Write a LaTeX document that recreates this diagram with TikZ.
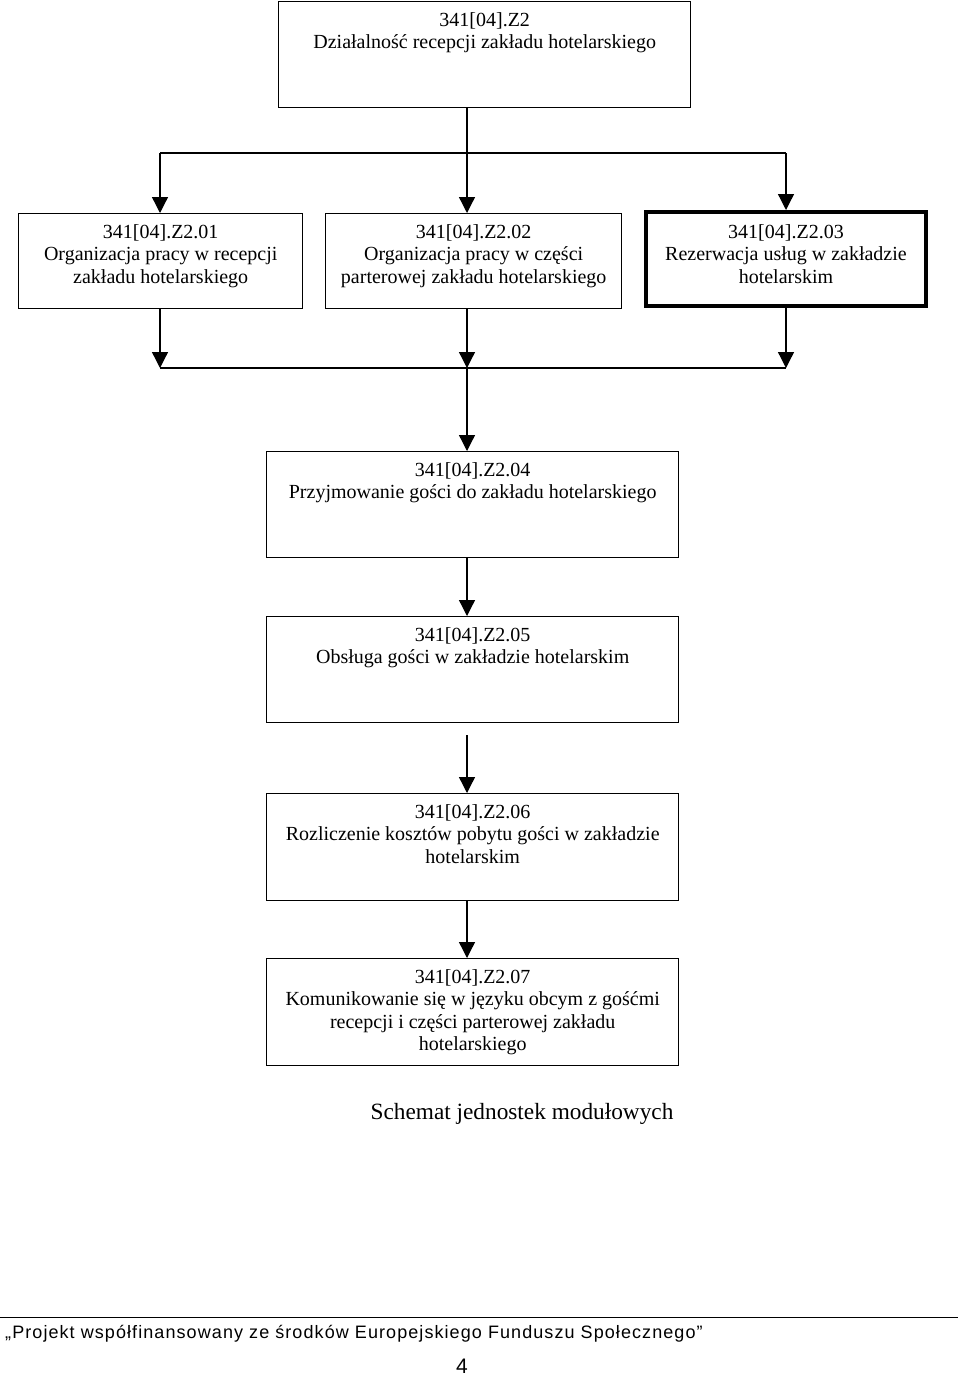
\documentclass[tikz,border=0pt]{standalone}
\usepackage{fontspec}
\setmainfont{Liberation Serif}
\setsansfont{Liberation Sans}
\newfontfamily\footfont[LetterSpace=6]{Liberation Sans}
\usetikzlibrary{positioning}
\usetikzlibrary{arrows.meta}

\tikzset{
	modbox/.style={draw,line width=1.4pt,anchor=north west,inner sep=0pt},
	modtxt/.style={anchor=north,align=center,inner sep=0pt,yshift=-11pt,font=\fontsize{20}{22.5}\selectfont},
	arr/.style={line width=1.3pt,-{Triangle[width=16pt,length=16pt]}},
	bus/.style={line width=1.3pt}
}

\begin{document}
\begin{tikzpicture}[x=1pt,y=-1pt]
		\useasboundingbox (0,0) rectangle (960,1376);
		\node[modbox,minimum width=412pt,minimum height=106pt,label={[modtxt]north:{341[04].Z2\\Działalność recepcji zakładu hotelarskiego}}](z2) at (278,1){};
		\node[modbox,minimum width=284pt,minimum height=95pt,label={[modtxt]north:{341[04].Z2.01\\Organizacja pracy w recepcji\\zakładu hotelarskiego}}](z201) at (18,213){};
		\node[modbox,minimum width=296pt,minimum height=95pt,label={[modtxt]north:{341[04].Z2.02\\Organizacja pracy w części\\parterowej zakładu hotelarskiego}}](z202) at (325,213){};
		\node[modbox,line width=4pt,minimum width=280pt,minimum height=94pt,label={[modtxt,yshift=-3pt]north:{341[04].Z2.03\\Rezerwacja usług w zakładzie\\hotelarskim}}](z203) at (644,210){};
		\node[modbox,minimum width=412pt,minimum height=106pt,label={[modtxt]north:{341[04].Z2.04\\Przyjmowanie gości do zakładu hotelarskiego}}](z204) at (266,451){};
		\node[modbox,minimum width=412pt,minimum height=106pt,label={[modtxt]north:{341[04].Z2.05\\Obsługa gości w zakładzie hotelarskim}}](z205) at (266,616){};
		\node[modbox,minimum width=412pt,minimum height=107pt,label={[modtxt]north:{341[04].Z2.06\\Rozliczenie kosztów pobytu gości w zakładzie\\hotelarskim}}](z206) at (266,793){};
		\node[modbox,minimum width=412pt,minimum height=107pt,label={[modtxt]north:{341[04].Z2.07\\Komunikowanie się w języku obcym z gośćmi\\recepcji i części parterowej zakładu\\hotelarskiego}}](z207) at (266,958){};

		\coordinate (tl) at (160,153);
		\coordinate (tm) at (467,153);
		\coordinate (tr) at (786,153);
		\coordinate (bl) at (160,368);
		\coordinate (bm) at (467,368);
		\coordinate (br) at (786,368);
		\coordinate (gap) at (467,735);

		\draw[bus] (z2.south -| tm) -- (tm);
		\draw[bus] (tl) -- (tr);
		\draw[arr] (tl) -- (tl |- z201.north);
		\draw[arr] (tm) -- (tm |- z202.north);
		\draw[arr] (tr) -- (tr |- z203.north);
		\draw[arr] (bl |- z201.south) -- (bl);
		\draw[arr] (bm |- z202.south) -- (bm);
		\draw[arr] (br |- z203.south) -- (br);
		\draw[bus] (bl) -- (br);
		\draw[arr] (bm) -- (bm |- z204.north);
		\draw[arr] (bm |- z204.south) -- (bm |- z205.north);
		\draw[arr] (gap) -- (gap |- z206.north);
		\draw[arr] (bm |- z206.south) -- (bm |- z207.north);

		\node[font=\fontsize{23.3}{27}\selectfont](cap) at (522,1114){Schemat jednostek modułowych};

		\coordinate (rl) at (0,1317);
		\coordinate (rr) at (958,1317);
		\draw[line width=1pt] (rl) -- (rr);
		\node[anchor=base west,inner sep=0pt,font=\footfont\fontsize{18}{20}\selectfont](proj) at (5,1338){„Projekt współfinansowany ze środków Europejskiego Funduszu Społecznego”};
		\node[font=\sffamily\fontsize{21}{21}\selectfont](pg) at (462,1366){4};
\end{tikzpicture}
\end{document}
